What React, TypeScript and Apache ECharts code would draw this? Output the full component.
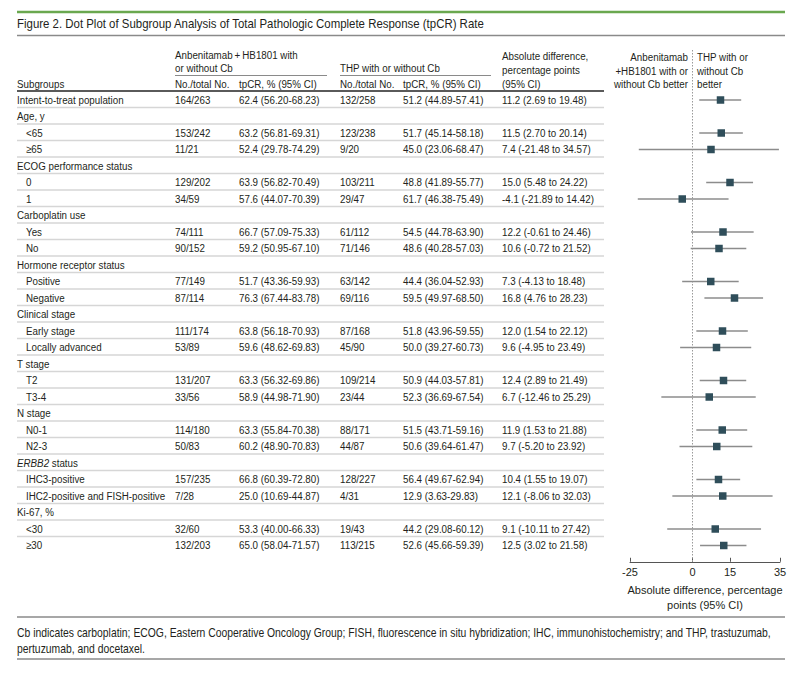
import React, { useEffect, useRef } from "react";
import * as echarts from "echarts";

const subgroups = [
  "Intent-to-treat population", "Age, y", "<65", "≥65", "ECOG performance status", "0", "1",
  "Carboplatin use", "Yes", "No", "Hormone receptor status", "Positive", "Negative",
  "Clinical stage", "Early stage", "Locally advanced", "T stage", "T2", "T3-4",
  "N stage", "N0-1", "N2-3", "ERBB2 status", "IHC3-positive", "IHC2-positive and FISH-positive",
  "Ki-67, %", "<30", "≥30",
];
const indented = [
  false, false, true, true, false, true, true,
  false, true, true, false, true, true,
  false, true, true, false, true, true,
  false, true, true, false, true, true,
  false, true, true,
];
const anbNo = [
  "164/263", "", "153/242", "11/21", "", "129/202", "34/59",
  "", "74/111", "90/152", "", "77/149", "87/114",
  "", "111/174", "53/89", "", "131/207", "33/56",
  "", "114/180", "50/83", "", "157/235", "7/28",
  "", "32/60", "132/203",
];
const anbRate = [
  "62.4 (56.20-68.23)", "", "63.2 (56.81-69.31)", "52.4 (29.78-74.29)", "", "63.9 (56.82-70.49)", "57.6 (44.07-70.39)",
  "", "66.7 (57.09-75.33)", "59.2 (50.95-67.10)", "", "51.7 (43.36-59.93)", "76.3 (67.44-83.78)",
  "", "63.8 (56.18-70.93)", "59.6 (48.62-69.83)", "", "63.3 (56.32-69.86)", "58.9 (44.98-71.90)",
  "", "63.3 (55.84-70.38)", "60.2 (48.90-70.83)", "", "66.8 (60.39-72.80)", "25.0 (10.69-44.87)",
  "", "53.3 (40.00-66.33)", "65.0 (58.04-71.57)",
];
const thpNo = [
  "132/258", "", "123/238", "9/20", "", "103/211", "29/47",
  "", "61/112", "71/146", "", "63/142", "69/116",
  "", "87/168", "45/90", "", "109/214", "23/44",
  "", "88/171", "44/87", "", "128/227", "4/31",
  "", "19/43", "113/215",
];
const thpRate = [
  "51.2 (44.89-57.41)", "", "51.7 (45.14-58.18)", "45.0 (23.06-68.47)", "", "48.8 (41.89-55.77)", "61.7 (46.38-75.49)",
  "", "54.5 (44.78-63.90)", "48.6 (40.28-57.03)", "", "44.4 (36.04-52.93)", "59.5 (49.97-68.50)",
  "", "51.8 (43.96-59.55)", "50.0 (39.27-60.73)", "", "50.9 (44.03-57.81)", "52.3 (36.69-67.54)",
  "", "51.5 (43.71-59.16)", "50.6 (39.64-61.47)", "", "56.4 (49.67-62.94)", "12.9 (3.63-29.83)",
  "", "44.2 (29.08-60.12)", "52.6 (45.66-59.39)",
];
const diffEst = [
  11.2, null, 11.5, 7.4, null, 15.0, -4.1,
  null, 12.2, 10.6, null, 7.3, 16.8,
  null, 12.0, 9.6, null, 12.4, 6.7,
  null, 11.9, 9.7, null, 10.4, 12.1,
  null, 9.1, 12.5,
];
const diffLow = [
  2.69, null, 2.70, -21.48, null, 5.48, -21.89,
  null, -0.61, -0.72, null, -4.13, 4.76,
  null, 1.54, -4.95, null, 2.89, -12.46,
  null, 1.53, -5.20, null, 1.55, -8.06,
  null, -10.11, 3.02,
];
const diffHigh = [
  19.48, null, 20.14, 34.57, null, 24.22, 14.42,
  null, 24.46, 21.52, null, 18.48, 28.23,
  null, 22.12, 23.49, null, 21.49, 25.29,
  null, 21.88, 23.92, null, 19.07, 32.03,
  null, 27.42, 21.58,
];
const xTicks = [-25, 0, 15, 35];

const FONT = '"Liberation Sans", Arial, sans-serif';
const TEXT = "#231f20";
const FS = 11;
const SX = 0.89;

export default function App() {
  const ref = useRef<HTMLDivElement>(null);
  useEffect(() => {
    document.body.style.margin = "0";
    const chart = echarts.init(ref.current!, null, { renderer: "svg" });
    const n = subgroups.length;

    const fmtDiff = (i: number) =>
      diffEst[i] == null
        ? ""
        : `${(diffEst[i] as number).toFixed(1)} (${(diffLow[i] as number).toFixed(2)} to ${(diffHigh[i] as number).toFixed(2)})`;

    const txtStyle = (text: string, extra: any = {}) => ({
      text,
      fill: TEXT,
      fontFamily: FONT,
      fontSize: FS,
      verticalAlign: "middle",
      align: "left",
      ...extra,
    });
    const cell = (x: number, y: number, text: string, extra: any = {}) => ({
      type: "text",
      x,
      y,
      scaleX: SX,
      style: txtStyle(text, extra),
    });

    const headerText = (x: number, y: number, text: string, align = "left", size = FS, sx = SX) => ({
      type: "text",
      x,
      y,
      scaleX: sx,
      silent: true,
      style: { text, fill: TEXT, fontFamily: FONT, fontSize: size, verticalAlign: "middle", align },
    });
    const hline = (x1: number, x2: number, y: number, stroke: string, w: number) => ({
      type: "line",
      silent: true,
      shape: { x1, y1: y, x2, y2: y },
      style: { stroke, lineWidth: w },
    });

    const forestData = diffEst
      .map((v, i) => (v == null ? null : [v, i, diffLow[i], diffHigh[i]]))
      .filter((d) => d != null);

    const option: any = {
      animation: false,
      grid: { left: 630, right: 20, top: 91.75, height: 462, outerBoundsMode: "none", containLabel: false },
      xAxis: {
        type: "value",
        min: -25,
        max: 35,
        offset: 8,
        axisLine: { show: true, lineStyle: { color: "#555", width: 1 } },
        axisTick: { show: true, inside: true, length: 4, customValues: xTicks, lineStyle: { color: "#555" } },
        axisLabel: { customValues: xTicks, color: TEXT, fontFamily: FONT, fontSize: FS, margin: 5 },
        splitLine: { show: false },
        name: "Absolute difference, percentage\npoints (95% CI)",
        nameLocation: "middle",
        nameGap: 19,
        nameTextStyle: { color: TEXT, fontFamily: FONT, fontSize: 11, lineHeight: 15 },
      },
      yAxis: {
        type: "category",
        inverse: true,
        data: subgroups,
        show: false,
      },
      graphic: [
        hline(17, 785, 12, "#6aa84f", 2.5),
        headerText(17, 24, "Figure 2. Dot Plot of Subgroup Analysis of Total Pathologic Complete Response (tpCR) Rate", "left", 13, 0.88),
        hline(17, 785, 35.5, "#8a8a8a", 1.5),
        headerText(175, 55, "Anbenitamab\u2009+\u2009HB1801 with"),
        headerText(175, 68, "or without Cb"),
        hline(175, 327, 75.5, "#8a8a8a", 1),
        headerText(340, 68, "THP with or without Cb"),
        hline(340, 491, 75.5, "#8a8a8a", 1),
        headerText(502, 56, "Absolute difference,"),
        headerText(502, 70, "percentage points"),
        headerText(502, 84, "(95% CI)"),
        headerText(17, 84, "Subgroups"),
        headerText(175, 84, "No./total No."),
        headerText(239, 84, "tpCR, % (95% CI)"),
        headerText(340, 84, "No./total No."),
        headerText(403, 84, "tpCR, % (95% CI)"),
        hline(17, 604, 91, "#5a5a5a", 2),
        headerText(688, 57, "Anbenitamab", "right"),
        headerText(688, 71, "+HB1801 with or", "right"),
        headerText(688, 84, "without Cb better", "right"),
        headerText(697, 57, "THP with or"),
        headerText(697, 71, "without Cb"),
        headerText(697, 84, "better"),
        hline(17, 785, 617, "#8a8a8a", 1.5),
        headerText(17, 633, "Cb indicates carboplatin; ECOG, Eastern Cooperative Oncology Group; FISH, fluorescence in situ hybridization; IHC, immunohistochemistry; and THP, trastuzumab,", "left", 12, 0.865),
        headerText(17, 649, "pertuzumab, and docetaxel.", "left", 12, 0.865),
        hline(17, 785, 659, "#8a8a8a", 1.5),
      ],
      series: [
        {
          type: "custom",
          name: "table",
          clip: false,
          silent: true,
          data: subgroups.map((_, i) => [0, i]),
          encode: { x: 0, y: 1 },
          renderItem: (params: any, api: any) => {
            const i = params.dataIndex;
            const y = api.coord([0, i])[1];
            const children: any[] = [];
            const lx = indented[i] ? 26 : 17;
            if (subgroups[i] === "ERBB2 status") {
              children.push(
                cell(lx, y, "{it|ERBB2}{n| status}", {
                  rich: {
                    it: { fontStyle: "italic", fontFamily: FONT, fontSize: FS, fill: TEXT },
                    n: { fontFamily: FONT, fontSize: FS, fill: TEXT },
                  },
                })
              );
            } else {
              children.push(cell(lx, y, subgroups[i]));
            }
            if (anbNo[i]) children.push(cell(175, y, anbNo[i]));
            if (anbRate[i]) children.push(cell(239, y, anbRate[i]));
            if (thpNo[i]) children.push(cell(340, y, thpNo[i]));
            if (thpRate[i]) children.push(cell(403, y, thpRate[i]));
            const d = fmtDiff(i);
            if (d) children.push(cell(502, y, d));
            if (i < n - 1) {
              children.push({
                type: "line",
                shape: { x1: 17, y1: y + 7.5, x2: 604, y2: y + 7.5 },
                style: { stroke: "#d6d6d6", lineWidth: 1.5 },
              });
            }
            return { type: "group", children };
          },
        },
        {
          type: "custom",
          name: "ref",
          clip: false,
          silent: true,
          data: [[0, n - 1]],
          encode: { x: 0, y: 1 },
          renderItem: (params: any, api: any) => {
            const p = api.coord([0, n - 1]);
            const top = api.coord([0, 0]);
            return {
              type: "line",
              shape: { x1: p[0], y1: top[1] - 50, x2: p[0], y2: p[1] + 16 },
              style: { stroke: "#9a9a9a", lineWidth: 1, lineDash: [1.5, 1.5] },
            };
          },
        },
        {
          type: "custom",
          name: "forest",
          clip: false,
          silent: true,
          data: forestData,
          encode: { x: [0, 2, 3], y: 1 },
          renderItem: (params: any, api: any) => {
            const c = api.coord([api.value(0), api.value(1)]);
            const lo = api.coord([api.value(2), api.value(1)]);
            const hi = api.coord([api.value(3), api.value(1)]);
            const s = 7.5;
            return {
              type: "group",
              children: [
                {
                  type: "line",
                  shape: { x1: lo[0], y1: c[1], x2: hi[0], y2: c[1] },
                  style: { stroke: "#8c8c8c", lineWidth: 1.5 },
                },
                {
                  type: "rect",
                  shape: { x: c[0] - s / 2, y: c[1] - s / 2, width: s, height: s },
                  style: { fill: "#2f4e5a" },
                },
              ],
            };
          },
        },
      ],
    };
    chart.setOption(option);
    return () => chart.dispose();
  }, []);
  return <div ref={ref} style={{ width: 800, height: 678 }} />;
}
